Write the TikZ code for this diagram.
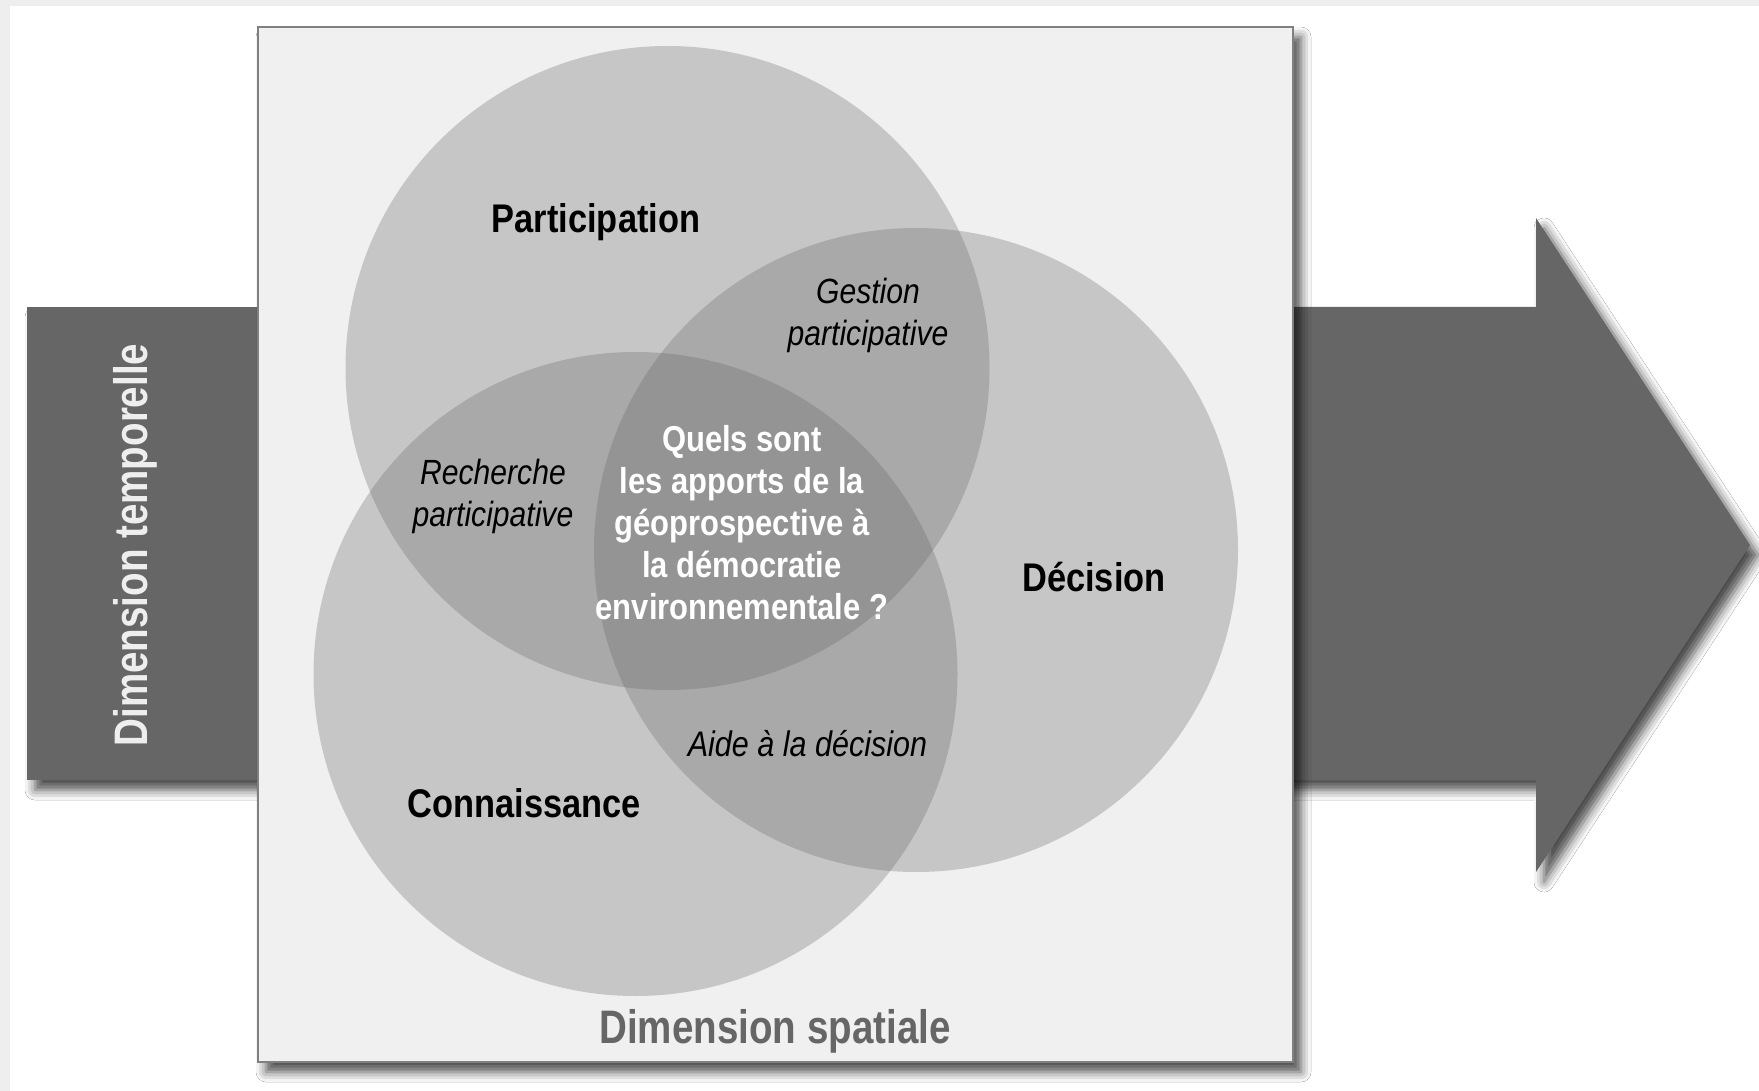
\documentclass[tikz,border=0pt]{standalone}
\usepackage{fontspec}
\setmainfont{Liberation Sans}
\newfontfamily\cnd{Liberation Sans}[FakeStretch=0.86]
\newfontfamily\cndd{Liberation Sans}[FakeStretch=0.82]
\usetikzlibrary{shadows.blur}
\definecolor{bggray}{HTML}{EEEEEE}
\definecolor{boxgray}{HTML}{F0F0F0}
\definecolor{darkfill}{HTML}{666666}
\definecolor{edgegray}{HTML}{808080}
\definecolor{lighttext}{HTML}{EEEEEE}
\tikzset{
  softshadow/.style={blur shadow={shadow xshift=8pt, shadow yshift=-10pt, shadow blur radius=10pt, shadow opacity=70}},
  venn/.style={circle, minimum size=644pt, inner sep=0pt, fill=darkfill, fill opacity=0.3},
  boldlab/.style={font=\cnd\bfseries\fontsize{40}{44}\selectfont, inner sep=0pt, anchor=base},
  itallab/.style={font=\cnd\itshape\fontsize{35}{41.5}\selectfont, inner sep=0pt, anchor=base, align=center},
  dimlab/.style={font=\cndd\bfseries\fontsize{47}{50}\selectfont, inner sep=0pt, anchor=base}
}
\begin{document}
\begin{tikzpicture}[x=1pt,y=-1pt]
\useasboundingbox (0,0) rectangle (1759,1091);
\fill[bggray] (0,0) rectangle (1759,1091);
\fill[white] (10,6) rectangle (1759,1091);
% left bar
\fill[darkfill, softshadow] (27,307) rectangle (300,780);
% right arrow
\fill[darkfill, softshadow] (1250,307) -- (1536,307) -- (1536,218) -- (1750,545) -- (1536,872) -- (1536,780) -- (1250,780) -- cycle;
% frame
\node[draw=edgegray, line width=1.3pt, fill=boxgray, minimum width=1035pt, minimum height=1035pt, inner sep=0pt, softshadow] (frame) at (775.5,544.5) {};
% circles
\node[venn] (cpart) at (667.5,368) {};
\node[venn] (cdec) at (916,550) {};
\node[venn] (cconn) at (635.5,674) {};
% labels
\node[boldlab] (lpart) at (596,233) {Participation};
\node[boldlab] (ldec) at (1094,591) {Décision};
\node[boldlab] (lconn) at (524.5,817) {Connaissance};
\node[itallab] (lgest) at (868,345) {Gestion\\participative};
\node[itallab] (lrech) at (493,526) {Recherche\\participative};
\node[itallab, font=\cnd\itshape\fontsize{35.5}{41.5}\selectfont] (laide) at (807.5,756) {Aide à la décision};
\node[font=\cnd\bfseries\fontsize{36}{41.8}\selectfont, text=white, align=center, inner sep=0pt, anchor=base] (lq) at (742,619) {Quels sont\\les apports de la\\géoprospective à\\la démocratie\\environnementale ?};
\node[dimlab, text=lighttext, rotate=90] (ltemp) at (147,545) {Dimension temporelle};
\node[dimlab, text=darkfill] (lspat) at (775,1043) {Dimension spatiale};
\end{tikzpicture}
\end{document}
